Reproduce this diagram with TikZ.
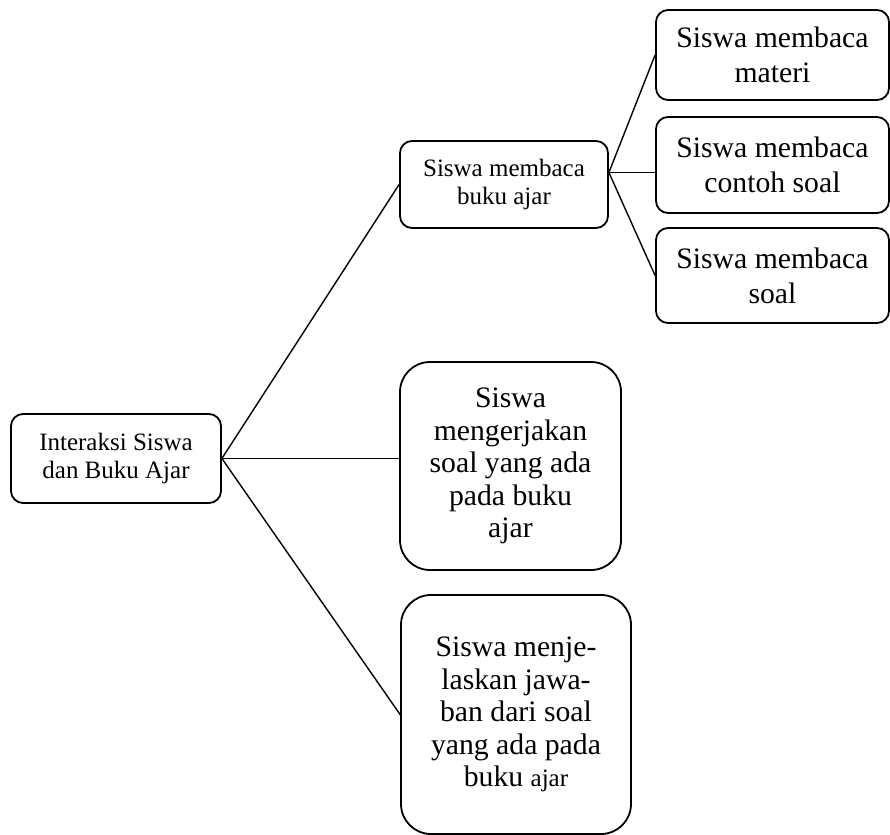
\documentclass[tikz,border=0pt]{standalone}
\usepackage{fontspec}
\setmainfont{Liberation Serif}
\newcommand{\kecil}{\fontsize{12.5}{14}\selectfont}
\newcommand{\besar}{\fontsize{14.85}{17.5}\selectfont}
\newcommand{\besarrapat}{\fontsize{14.85}{16.3}\selectfont}

\begin{document}
\begin{tikzpicture}[x=0.5pt, y=-0.5pt,
    kotak/.style={draw, line width=0.9pt, rounded corners=6pt, align=center, inner sep=0pt},
    kotakbesar/.style={kotak, rounded corners=15pt, font=\besarrapat},
    garis/.style={line width=0.7pt}]
    \useasboundingbox (0,0) rectangle (890,835);
    % akar
    \node[kotak, font=\kecil, minimum width=105pt, minimum height=44.5pt] (root) at (116,458.5)
        {Interaksi Siswa\\dan Buku Ajar};
    % cabang atas
    \node[kotak, font=\kecil, minimum width=104pt, minimum height=43.5pt] (baca) at (504,184.5)
        {Siswa membaca\\buku ajar};
    \node[kotak, font=\besar, minimum width=116.5pt, minimum height=45pt] (materi) at (772.5,55)
        {Siswa membaca\\materi};
    \node[kotak, font=\besar, minimum width=116.5pt, minimum height=48pt] (contoh) at (772.5,165)
        {Siswa membaca\\contoh soal};
    \node[kotak, font=\besar, minimum width=116.5pt, minimum height=47.5pt] (soal) at (772.5,275.5)
        {Siswa membaca\\soal};
    % cabang tengah dan bawah
    \node[kotakbesar, minimum width=110.5pt, minimum height=104pt] (kerjakan) at (510.5,466)
        {Siswa\\mengerjakan\\soal yang ada\\pada buku\\ajar};
    \node[kotakbesar, minimum width=115pt, minimum height=119.5pt] (jelaskan) at (516,714.5)
        {Siswa menje-\\laskan jawa-\\ban dari soal\\yang ada pada\\buku {\kecil ajar}};
    % penghubung
    \draw[garis] (root.east) -- (baca.west);
    \draw[garis] (root.east) -- (root.east -| kerjakan.west);
    \draw[garis] (root.east) -- (jelaskan.west);
    \coordinate (simpul) at ([yshift=6pt]baca.east);
    \draw[garis] (simpul) -- (materi.west);
    \draw[garis] (simpul) -- (simpul -| contoh.west);
    \draw[garis] (simpul) -- (soal.west);
\end{tikzpicture}
\end{document}
